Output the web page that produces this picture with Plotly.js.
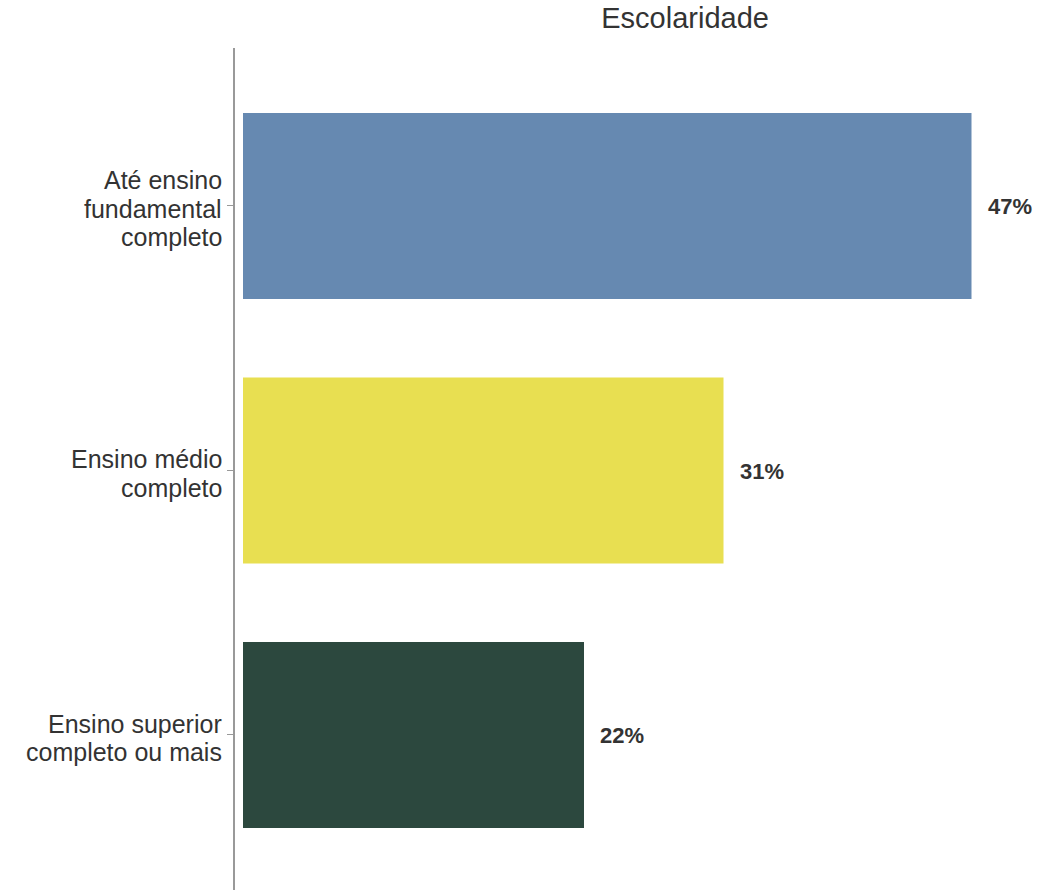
<!DOCTYPE html>
<html>
<head>
<meta charset="utf-8">
<script src="https://cdn.plot.ly/plotly-3.0.1.min.js"></script>
<style>html,body{margin:0;padding:0;background:#fff;}#chart{width:1038px;height:896px;}</style>
</head>
<body>
<div id="chart"></div>
<script>
const categories = ["Até ensino fundamental completo", "Ensino médio completo", "Ensino superior completo ou mais"];
const tickLabelLines = [["Até ensino", "fundamental", "completo"], ["Ensino médio", "completo"], ["Ensino superior", "completo ou mais"]];
const values = [47, 31, 22];
const labels = ["47%", "31%", "22%"];
const colors = ["#6689b1", "#e8df51", "#2c483e"];

const FONT = "Arial, 'Liberation Sans', sans-serif";

const trace = {
  type: "bar",
  orientation: "h",
  y: categories,
  x: values,
  marker: {color: colors, line: {width: 0}},
  width: 0.703,
  hoverinfo: "skip"
};

const annotations = values.map((v, i) => ({
  x: v, y: categories[i], xref: "x", yref: "y",
  text: "<b>" + labels[i] + "</b>",
  showarrow: false, xanchor: "left", yanchor: "middle", xshift: 14, yshift: -1,
  font: {family: FONT, size: 22, color: "#333333"}
}));

const LINE_H = 28.5;
tickLabelLines.forEach((lines, i) => {
  const n = lines.length;
  lines.forEach((line, k) => {
    annotations.push({
      x: 0, xref: "paper", y: categories[i], yref: "y",
      text: line, showarrow: false, xanchor: "right", yanchor: "middle",
      xshift: -12, yshift: -((k - (n - 1) / 2) * LINE_H) - 3,
      borderpad: 0,
      font: {family: FONT, size: 25, color: "#333333"}
    });
  });
});

const layout = {
  width: 1038, height: 896,
  margin: {l: 235, r: 0, t: 48, b: 6},
  paper_bgcolor: "#ffffff", plot_bgcolor: "#ffffff",
  showlegend: false,
  title: {text: "Escolaridade", x: 0.66, xanchor: "center", y: 0.98, yanchor: "middle",
          font: {family: FONT, size: 29, color: "#333333"}},
  xaxis: {range: [-0.516, 51.29], showgrid: false, zeroline: false, showticklabels: false, showline: false, ticks: "", fixedrange: true},
  yaxis: {type: "category", range: [2.586, -0.597], showgrid: false, zeroline: false,
          showline: true, linecolor: "#999999", linewidth: 2, ticks: "outside", ticklen: 6, tickwidth: 1, tickcolor: "#999999",
          showticklabels: false},
  annotations: annotations
};

Plotly.newPlot("chart", [trace], layout, {displayModeBar: false, staticPlot: true});
</script>
</body>
</html>
